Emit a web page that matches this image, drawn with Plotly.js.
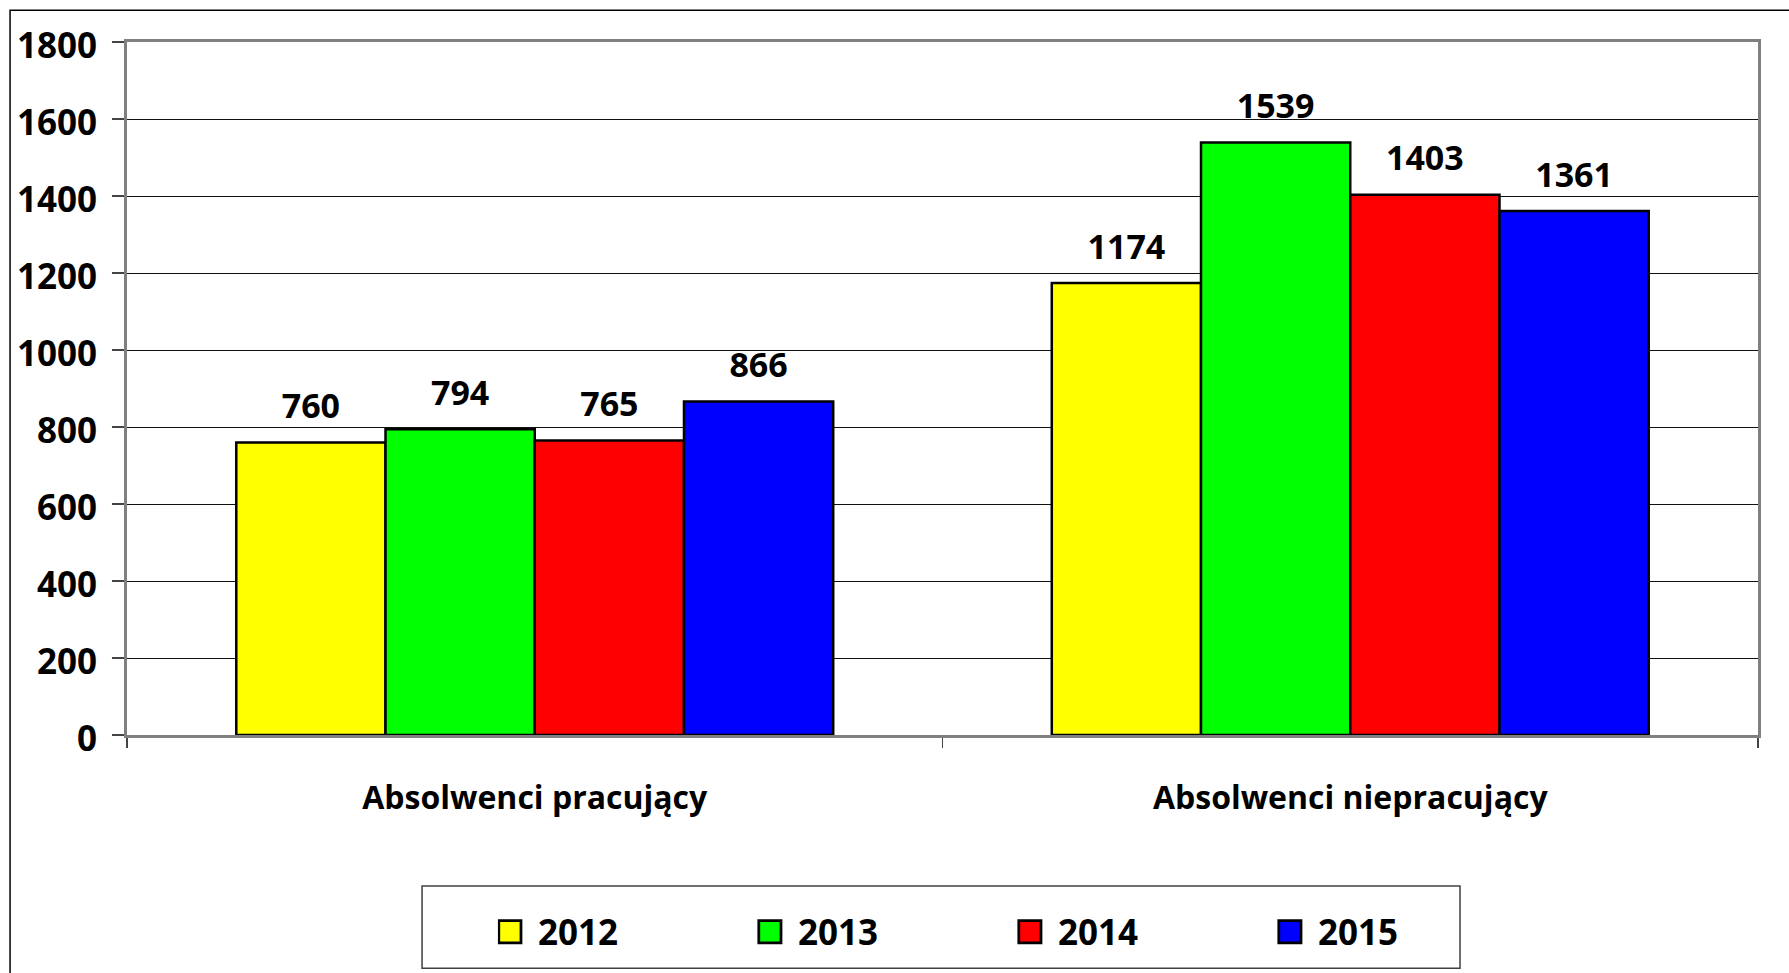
<!DOCTYPE html>
<html>
<head>
<meta charset="utf-8">
<script src="https://cdn.plot.ly/plotly-3.0.1.min.js"></script>
<style>html,body{margin:0;padding:0;background:#fff;}#chart{width:1789px;height:973px;}</style>
</head>
<body>
<div id="chart"></div>
<script>
const categories = ['Absolwenci pracujący', 'Absolwenci niepracujący'];
const years = ['2012', '2013', '2014', '2015'];
const values2012 = [760, 1174];
const values2013 = [794, 1539];
const values2014 = [765, 1403];
const values2015 = [866, 1361];
const seriesValues = [values2012, values2013, values2014, values2015];
const seriesColors = ['#FFFF00', '#00FF00', '#FF0000', '#0000FF'];
const yTicks = [0, 200, 400, 600, 800, 1000, 1200, 1400, 1600, 1800];

const FONT = 'Open Sans, Lato, sans-serif';
const mkFont = (s) => ({family: FONT, size: s, color: '#000', weight: 700});

const traces = [];
years.forEach((yr, i) => {
  traces.push({
    type: 'bar', name: yr, x: categories, y: seriesValues[i],
    marker: {color: seriesColors[i], line: {color: '#000', width: 2.5}},
    hoverinfo: 'skip'
  });
});
years.forEach((yr, i) => {
  traces.push({
    type: 'scatter', mode: 'markers+text', name: yr + ' labels', showlegend: false,
    x: categories, y: seriesValues[i], text: seriesValues[i].map(String),
    textposition: 'top center', textfont: mkFont(34),
    marker: {size: 24, opacity: 0, color: seriesColors[i]},
    cliponaxis: false, hoverinfo: 'skip'
  });
});

const layout = {
  width: 1789, height: 973,
  margin: {l: 127, r: 31, t: 42, b: 233},
  paper_bgcolor: '#fff', plot_bgcolor: '#fff',
  barmode: 'group', bargap: 0.268, bargroupgap: 0,
  scattermode: 'group', scattergap: 0.268,
  hovermode: false,
  font: mkFont(33),
  showlegend: true,
  legend: {
    orientation: 'h', x: 0.2274, xanchor: 'left', y: -0.2843, yanchor: 'middle',
    font: mkFont(35), entrywidth: 215, entrywidthmode: 'pixels',
    bgcolor: 'rgba(0,0,0,0)', borderwidth: 0
  },
  xaxis: {
    type: 'category', showgrid: false, zeroline: false,
    showline: true, mirror: true, linecolor: '#808080', linewidth: 3,
    ticks: 'outside', tickson: 'boundaries', ticklen: 10, tickwidth: 1.5, tickcolor: '#444',
    tickfont: mkFont(32), ticklabelstandoff: 33
  },
  yaxis: {
    range: [0, 1800], tickvals: yTicks, ticktext: yTicks.map(String),
    showgrid: true, gridcolor: '#111', gridwidth: 1, zeroline: false,
    showline: true, mirror: true, linecolor: '#808080', linewidth: 3,
    ticks: 'outside', ticklen: 12, tickwidth: 1.5, tickcolor: '#444',
    tickfont: mkFont(35), ticklabelstandoff: 8, ticklabelshift: 4
  },
  shapes: [
    {type: 'rect', xref: 'paper', yref: 'paper', x0: -0.0717, x1: 1.2, y0: -0.6, y1: 1.0458,
     line: {color: '#000', width: 1.5}, fillcolor: 'rgba(0,0,0,0)', layer: 'below'},
    {type: 'rect', xref: 'paper', yref: 'paper', x0: 0.1809, x1: 0.8173, y0: -0.3367, y1: -0.2178,
     line: {color: '#404040', width: 1.5}, fillcolor: 'rgba(0,0,0,0)'}
  ]
};

Plotly.newPlot('chart', traces, layout, {displayModeBar: false, staticPlot: true}).then(() => {
  document.querySelectorAll('.legend .legendpoints path').forEach(p => {
    p.style.strokeWidth = '1.5px';
    p.setAttribute('transform', 'translate(12,0) scale(1.85)');
  });
});
</script>
</body>
</html>
